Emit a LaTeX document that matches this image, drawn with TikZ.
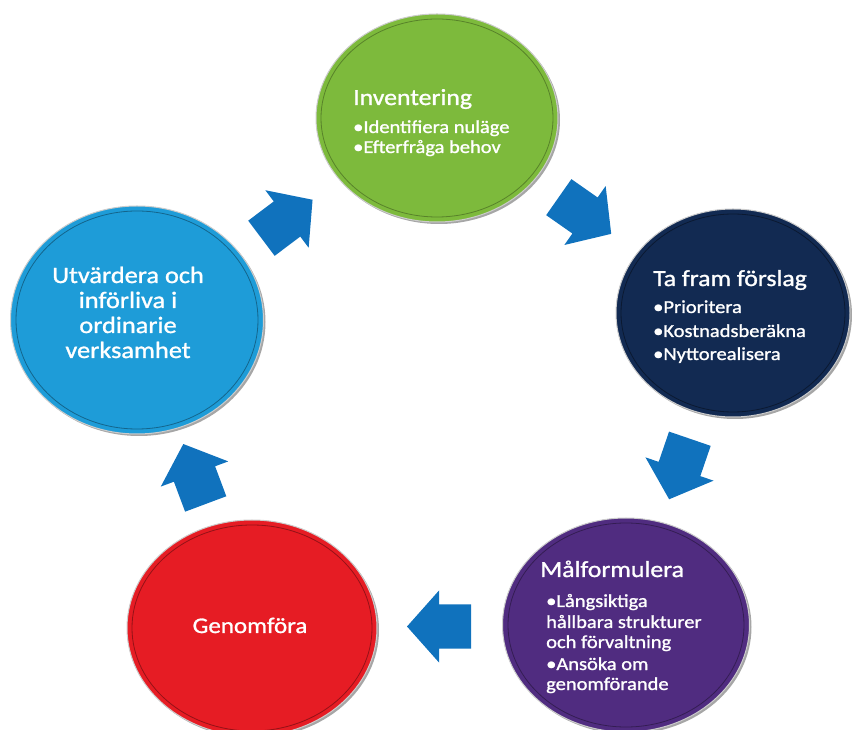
\documentclass[tikz,border=0pt]{standalone}
\usepackage{fontspec}
\setmainfont{Carlito}[FakeStretch=1.12,FakeBold=1.2]
\usetikzlibrary{shapes.geometric,calc,shadows}
\definecolor{cgreen}{RGB}{125,186,60}
\definecolor{cnavy}{RGB}{18,42,82}
\definecolor{cpurple}{RGB}{80,44,128}
\definecolor{cred}{RGB}{230,28,36}
\definecolor{cblue}{RGB}{30,156,216}
\definecolor{carrow}{RGB}{16,114,189}
\begin{document}
\begin{tikzpicture}[x=1pt,y=1pt,
  disc/.style={ellipse, inner sep=0pt, outer sep=0pt, draw=black!20, line width=1pt,
    drop shadow={shadow xshift=2pt, shadow yshift=-2pt, opacity=0.35, fill=black}},
  ring/.style={line width=0.8pt},
  lbl/.style={text=white, inner sep=0pt, anchor=base west},
  ttl/.style={lbl, font=\fontsize{23}{27}\selectfont},
  itm/.style={lbl, font=\fontsize{18.3}{22}\selectfont},
  ctr/.style={text=white, inner sep=0pt, anchor=base},
  barrow/.pic={\fill[carrow] (-32,-22) -- (0,-22) -- (0,-36) -- (32,0) -- (0,36) -- (0,22) -- (-32,22) -- cycle;}
]
\useasboundingbox (0,0) rectangle (852,729);
% discs
\node[disc, fill=cgreen, minimum width=242pt, minimum height=208pt] (inv) at (437,611) {};
\node[disc, fill=cnavy, minimum width=234pt, minimum height=208pt] (tff) at (733,416) {};
\node[disc, fill=cpurple, minimum width=247pt, minimum height=214pt] (mal) at (626,104) {};
\node[disc, fill=cred, minimum width=250pt, minimum height=216pt] (gen) at (252,101) {};
\node[disc, fill=cblue, minimum width=253pt, minimum height=228pt] (utv) at (137,409) {};
% inner rings
\draw[ring, draw=cgreen!70!black] (inv.center) ellipse [x radius=116pt, y radius=99pt];
\draw[ring, draw=cnavy!60!black] (tff.center) ellipse [x radius=112pt, y radius=99pt];
\draw[ring, draw=cpurple!65!black] (mal.center) ellipse [x radius=118pt, y radius=102pt];
\draw[ring, draw=cred!65!black] (gen.center) ellipse [x radius=120pt, y radius=103pt];
\draw[ring, draw=cblue!65!black] (utv.center) ellipse [x radius=121pt, y radius=109pt];
% texts
\node[ttl] (inv-t) at (353,624) {Inventering};
\node[itm] (inv-1) at (353,596) {•Identifiera nuläge};
\node[itm] (inv-2) at (353,576) {•Efterfråga behov};

\node[ttl] (tff-t) at (653,443) {Ta fram förslag};
\node[itm] (tff-1) at (653,416) {•Prioritera};
\node[itm] (tff-2) at (653,392) {•Kostnadsberäkna};
\node[itm] (tff-3) at (653,369) {•Nyttorealisera};

\node[ttl] (mal-t) at (540,152) {Målformulera};
\node[itm] (mal-1) at (546,122) {•Långsiktiga};
\node[itm] (mal-2) at (546,101) {hållbara strukturer};
\node[itm] (mal-3) at (546,81) {och förvaltning};
\node[itm] (mal-4) at (546,59) {•Ansöka om};
\node[itm] (mal-5) at (546,39) {genomförande};

\node[ctr, font=\fontsize{22.3}{26}\selectfont] (gen-t) at (250,96) {Genomföra};

\node[ctr, font=\fontsize{23.5}{27}\selectfont] (utv-1) at (128,446) {Utvärdera och};
\node[ctr, font=\fontsize{23.5}{27}\selectfont] (utv-2) at (128,421) {införliva i};
\node[ctr, font=\fontsize{23.5}{27}\selectfont] (utv-3) at (128,396) {ordinarie};
\node[ctr, font=\fontsize{23.5}{27}\selectfont] (utv-4) at (128,371) {verksamhet};
% block arrows between consecutive discs
\pic[rotate=37] at ($(utv.center)!0.5!(inv.center)$) {barrow};
\pic[rotate=-35] at ($(inv.center)!0.5!(tff.center)$) {barrow};
\pic[rotate=-108.9] at ($(tff.center)!0.5!(mal.center)$) {barrow};
\pic[rotate=180] at ($(mal.center)!0.5!(gen.center)$) {barrow};
\pic[rotate=110.5] at ($(gen.center)!0.5!(utv.center)$) {barrow};
\end{tikzpicture}
\end{document}
